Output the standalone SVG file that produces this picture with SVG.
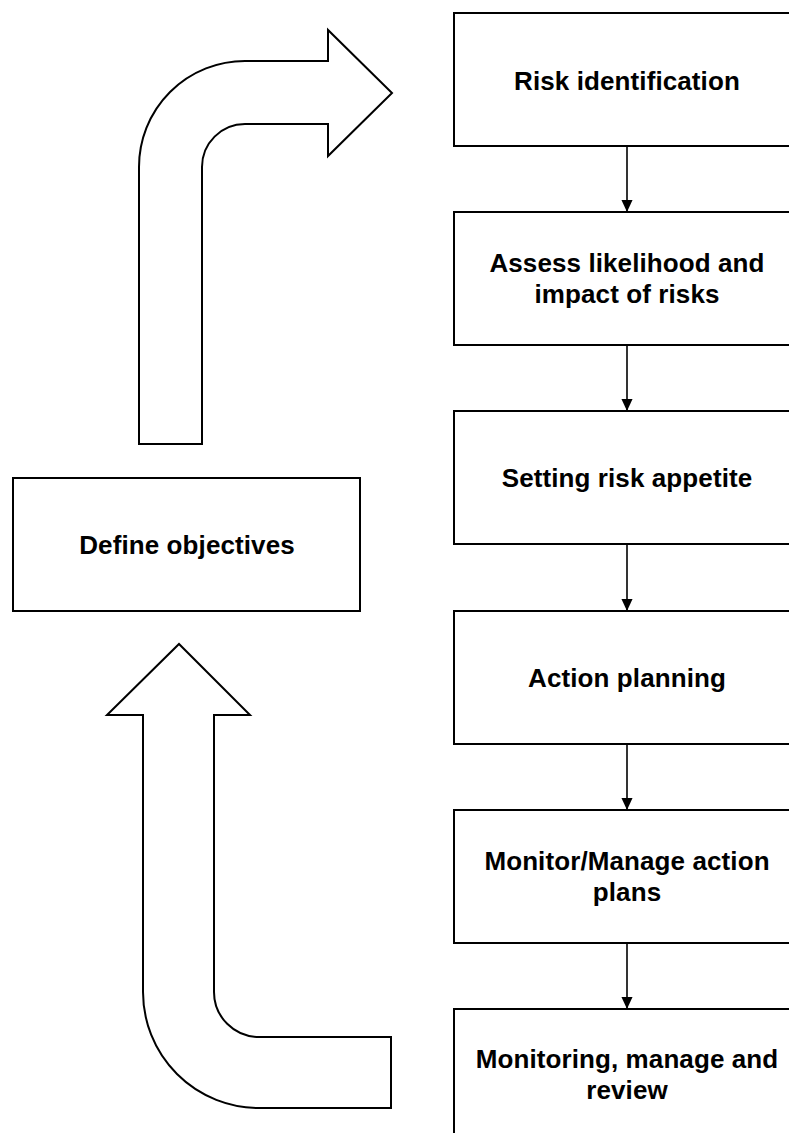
<svg xmlns="http://www.w3.org/2000/svg" width="789" height="1133" viewBox="0 0 789 1133">
<style>
.box{fill:#fff;stroke:#000;stroke-width:2}
.big{fill:#fff;stroke:#000;stroke-width:2;stroke-linejoin:miter}
.lbl{font-family:"Liberation Sans",Arial,sans-serif;font-weight:bold;font-size:26px;letter-spacing:0.1px;text-anchor:middle;fill:#000}
.con{stroke:#000;stroke-width:1.6;fill:none}
</style>
<defs>
<marker id="ah" markerWidth="12" markerHeight="13" viewBox="0 0 13 12" refX="13" refY="6" orient="auto" markerUnits="userSpaceOnUse">
<path d="M0,0 L13,6 L0,12 Z" fill="#000"/>
</marker>
</defs>
<rect width="789" height="1133" fill="#fff"/>
<g id="arrow-top">
<path class="big" d="M139 444 L139 167 A106 106 0 0 1 245 61 L328 61 L328 30 L392 93 L328 156 L328 124 L245 124 A43 43 0 0 0 202 167 L202 444 Z"/>
</g>
<g id="arrow-bottom">
<path class="big" d="M143 715 L107 715 L179 644 L250 715 L214 715 L214 992 A45 45 0 0 0 259 1037 L391 1037 L391 1108 L259 1108 A116 116 0 0 1 143 992 Z"/>
</g>
<g id="define-objectives">
<rect class="box" x="13" y="478" width="347" height="133"/>
<text class="lbl" x="187" y="554">Define objectives</text>
</g>
<g id="risk-identification">
<rect class="box" x="454" y="13" width="346" height="133"/>
<text class="lbl" x="627" y="90">Risk identification</text>
</g>
<g id="assess">
<rect class="box" x="454" y="212" width="346" height="133"/>
<text class="lbl" x="627" y="272">Assess likelihood and</text>
<text class="lbl" x="627" y="303">impact of risks</text>
</g>
<g id="appetite">
<rect class="box" x="454" y="411" width="346" height="133"/>
<text class="lbl" x="627" y="487">Setting risk appetite</text>
</g>
<g id="action-planning">
<rect class="box" x="454" y="611" width="346" height="133"/>
<text class="lbl" x="627" y="687">Action planning</text>
</g>
<g id="monitor-manage">
<rect class="box" x="454" y="810" width="346" height="133"/>
<text class="lbl" x="627" y="870">Monitor/Manage action</text>
<text class="lbl" x="627" y="901">plans</text>
</g>
<g id="monitoring-review">
<rect class="box" x="454" y="1009" width="346" height="133"/>
<text class="lbl" x="627" y="1068">Monitoring, manage and</text>
<text class="lbl" x="627" y="1099">review</text>
</g>
<g id="connectors">
<line class="con" x1="627" y1="146" x2="627" y2="212" marker-end="url(#ah)"/>
<line class="con" x1="627" y1="345" x2="627" y2="411" marker-end="url(#ah)"/>
<line class="con" x1="627" y1="544" x2="627" y2="611" marker-end="url(#ah)"/>
<line class="con" x1="627" y1="744" x2="627" y2="810" marker-end="url(#ah)"/>
<line class="con" x1="627" y1="943" x2="627" y2="1009" marker-end="url(#ah)"/>
</g>
</svg>
